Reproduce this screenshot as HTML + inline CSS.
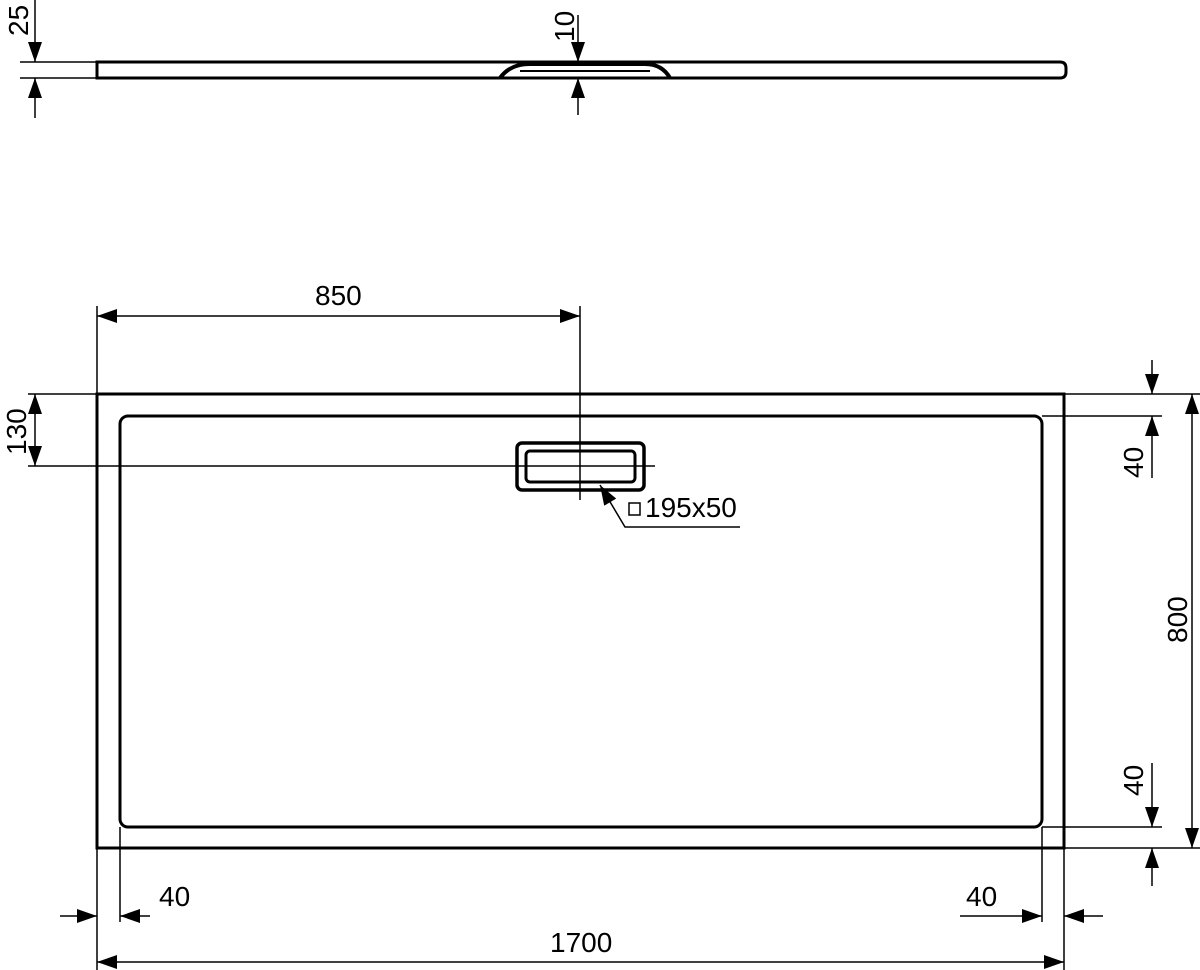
<!DOCTYPE html>
<html><head><style>body{margin:0;background:#fff}svg{display:block}text{font-family:"Liberation Sans",sans-serif;font-size:28px;fill:#000}</style></head><body>
<svg width="1200" height="970" viewBox="0 0 1200 970" xmlns="http://www.w3.org/2000/svg">
<defs>
<marker id="a" viewBox="0 0 10 10" refX="10" refY="5" markerWidth="20" markerHeight="20" markerUnits="userSpaceOnUse" orient="auto-start-reverse"><path d="M0,1.5 L10,5 L0,8.5 Z" fill="#000"/></marker>
</defs>
<g stroke="#000" fill="none">
<path d="M97,62 H1060 Q1066,62 1066,68 V72 Q1066,78 1060,78 H97 Z" stroke-width="3"/>
<path d="M500,78 Q510,64 530,64 H645 Q662,64 670,78" stroke-width="4"/>
<path d="M520,71 H650" stroke-width="2"/>
<path d="M20,62 H97 M20,78 H97" stroke-width="1.5"/>
<path d="M35,0 V62" stroke-width="1.5" marker-end="url(#a)"/>
<path d="M35,118 V78" stroke-width="1.5" marker-end="url(#a)"/>
<path d="M578,15 V62" stroke-width="1.5" marker-end="url(#a)"/>
<path d="M578,115 V78" stroke-width="1.5" marker-end="url(#a)"/>
<rect x="97" y="394" width="967" height="454" stroke-width="3"/>
<rect x="120" y="416" width="922" height="411" rx="8" stroke-width="3"/>
<rect x="517" y="443" width="127" height="47" rx="5" stroke-width="3.5"/>
<rect x="526" y="451" width="109" height="31" rx="4" stroke-width="3"/>
<path d="M97,306 V394 M580,306 V500" stroke-width="1.5"/>
<path d="M97,316 H580" stroke-width="1.5" marker-start="url(#a)" marker-end="url(#a)"/>
<path d="M28,394 H97 M28,466 H655" stroke-width="1.5"/>
<path d="M35,394 V466" stroke-width="1.5" marker-start="url(#a)" marker-end="url(#a)"/>
<path d="M740,527 H625 L600,485" stroke-width="1.5" marker-end="url(#a)"/>
<rect x="629" y="503" width="11" height="12" stroke-width="1.5"/>
<path d="M1064,394 H1200 M1064,848 H1200 M1042,416 H1162 M1042,827 H1162" stroke-width="1.5"/>
<path d="M1192,394 V848" stroke-width="1.5" marker-start="url(#a)" marker-end="url(#a)"/>
<path d="M1152,360 V394" stroke-width="1.5" marker-end="url(#a)"/>
<path d="M1152,478 V416" stroke-width="1.5" marker-end="url(#a)"/>
<path d="M1152,763 V827" stroke-width="1.5" marker-end="url(#a)"/>
<path d="M1152,886 V848" stroke-width="1.5" marker-end="url(#a)"/>
<path d="M97,848 V970 M1064,848 V970 M120,827 V922 M1042,827 V922" stroke-width="1.5"/>
<path d="M60,916 H97" stroke-width="1.5" marker-end="url(#a)"/>
<path d="M150,916 H120" stroke-width="1.5" marker-end="url(#a)"/>
<path d="M960,916 H1042" stroke-width="1.5" marker-end="url(#a)"/>
<path d="M1103,916 H1064" stroke-width="1.5" marker-end="url(#a)"/>
<path d="M97,962 H1064" stroke-width="1.5" marker-start="url(#a)" marker-end="url(#a)"/>
</g>
<text x="315" y="305">850</text>
<text x="645" y="517">195x50</text>
<text x="159" y="906">40</text>
<text x="966" y="906">40</text>
<text x="550" y="952">1700</text>
<text transform="translate(28,36) rotate(-90)">25</text>
<text transform="translate(574,42) rotate(-90)">10</text>
<text transform="translate(26,455) rotate(-90)">130</text>
<text transform="translate(1187,643) rotate(-90)">800</text>
<text transform="translate(1143,478) rotate(-90)">40</text>
<text transform="translate(1143,796) rotate(-90)">40</text>
</svg>
</body></html>
